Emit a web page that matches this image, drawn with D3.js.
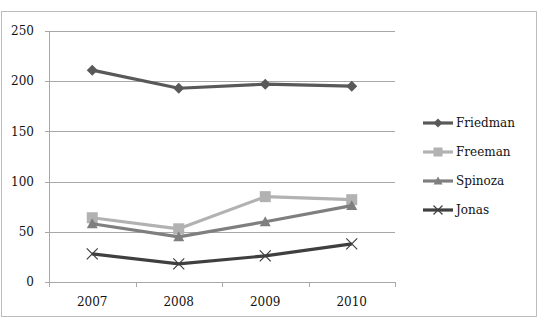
<!DOCTYPE html>
<html>
<head>
<meta charset="utf-8">
<script src="https://cdn.jsdelivr.net/npm/d3@7"></script>
<style>
  body { margin: 0; background: #fff; }
  text { font-family: "DejaVu Serif", serif; font-size: 12px; fill: #111; }
</style>
</head>
<body>
<div id="chart"></div>
<script>
// chart data
var years = ["2007", "2008", "2009", "2010"];
var friedman = [211, 193, 197, 195];
var freeman = [64, 53, 85, 82];
var spinoza = [58, 45, 60, 76];
var jonas = [28, 18, 26, 38];
var yTicks = [0, 50, 100, 150, 200, 250];

var series = [
  { name: "Friedman", values: friedman, color: "#595959", marker: "diamond" },
  { name: "Freeman", values: freeman, color: "#b2b2b2", marker: "square" },
  { name: "Spinoza", values: spinoza, color: "#7f7f7f", marker: "triangle" },
  { name: "Jonas", values: jonas, color: "#3f3f3f", marker: "cross" }
];

var width = 544, height = 327;
var plot = { left: 49, right: 395, top: 31, bottom: 282 };

var svg = d3.select("#chart").append("svg")
  .attr("width", width)
  .attr("height", height);

// outer frame
svg.append("rect")
  .attr("x", 1.5).attr("y", 11.5)
  .attr("width", 535).attr("height", 305)
  .attr("fill", "none")
  .attr("stroke", "#bdbdbd")
  .attr("stroke-width", 1);

var x = d3.scaleBand().domain(years).range([plot.left, plot.right]);
var y = d3.scaleLinear().domain([0, 250]).range([plot.bottom, plot.top]);

// gridlines
svg.append("g")
  .selectAll("line")
  .data(yTicks)
  .enter().append("line")
    .attr("x1", plot.left - 4).attr("x2", plot.right)
    .attr("y1", d => Math.round(y(d)) + 0.5)
    .attr("y2", d => Math.round(y(d)) + 0.5)
    .attr("stroke", "#a8a8a8");

// y axis line
svg.append("line")
  .attr("x1", plot.left + 0.5).attr("x2", plot.left + 0.5)
  .attr("y1", plot.top).attr("y2", plot.bottom)
  .attr("stroke", "#a8a8a8");

// y labels
svg.append("g")
  .selectAll("text")
  .data(yTicks)
  .enter().append("text")
    .attr("x", plot.left - 15)
    .attr("y", d => y(d))
    .attr("dy", "0.35em")
    .attr("text-anchor", "end")
    .text(d => d);

// x axis ticks at category boundaries
var bounds = years.map(d => x(d)).concat([plot.right]);
svg.append("g")
  .selectAll("line")
  .data(bounds)
  .enter().append("line")
    .attr("x1", d => Math.round(d) + 0.5).attr("x2", d => Math.round(d) + 0.5)
    .attr("y1", plot.bottom).attr("y2", plot.bottom + 5)
    .attr("stroke", "#a8a8a8");

svg.append("g")
  .selectAll("text")
  .data(years)
  .enter().append("text")
    .attr("x", d => x(d) + x.bandwidth() / 2)
    .attr("y", 302)
    .attr("dy", "0.35em")
    .attr("text-anchor", "middle")
    .text(d => d);

// markers
function drawMarker(g, type, color, cx, cy, s) {
  if (type === "diamond") {
    g.append("path")
      .attr("d", "M" + cx + "," + (cy - s) + "L" + (cx + s) + "," + cy + "L" + cx + "," + (cy + s) + "L" + (cx - s) + "," + cy + "Z")
      .attr("fill", color);
  } else if (type === "square") {
    g.append("rect")
      .attr("x", cx - s).attr("y", cy - s)
      .attr("width", 2 * s).attr("height", 2 * s)
      .attr("fill", color);
  } else if (type === "triangle") {
    g.append("path")
      .attr("d", "M" + cx + "," + (cy - s) + "L" + (cx + s) + "," + (cy + s * 0.8) + "L" + (cx - s) + "," + (cy + s * 0.8) + "Z")
      .attr("fill", color);
  } else {
    g.append("path")
      .attr("d", "M" + (cx - s) + "," + (cy - s) + "L" + (cx + s) + "," + (cy + s) + "M" + (cx - s) + "," + (cy + s) + "L" + (cx + s) + "," + (cy - s))
      .attr("stroke", color)
      .attr("stroke-width", 1.2)
      .attr("fill", "none");
  }
}

var line = d3.line()
  .x((d, i) => x(years[i]) + x.bandwidth() / 2)
  .y(d => y(d));

series.forEach(function(s) {
  var g = svg.append("g");
  g.append("path")
    .datum(s.values)
    .attr("d", line)
    .attr("fill", "none")
    .attr("stroke", s.color)
    .attr("stroke-width", 3.2)
    .attr("stroke-linejoin", "round");
  s.values.forEach(function(v, i) {
    drawMarker(g, s.marker, s.color, x(years[i]) + x.bandwidth() / 2, y(v), 5.5);
  });
});

// legend
var legend = svg.append("g");
series.forEach(function(s, i) {
  var ly = 123 + i * 29;
  var lg = legend.append("g");
  lg.append("line")
    .attr("x1", 423).attr("x2", 453)
    .attr("y1", ly).attr("y2", ly)
    .attr("stroke", s.color)
    .attr("stroke-width", 3.2);
  drawMarker(lg, s.marker, s.color, 438, ly, 4.5);
  lg.append("text")
    .attr("x", 456)
    .attr("y", ly)
    .attr("dy", "0.35em")
    .text(s.name);
});
</script>
</body>
</html>
